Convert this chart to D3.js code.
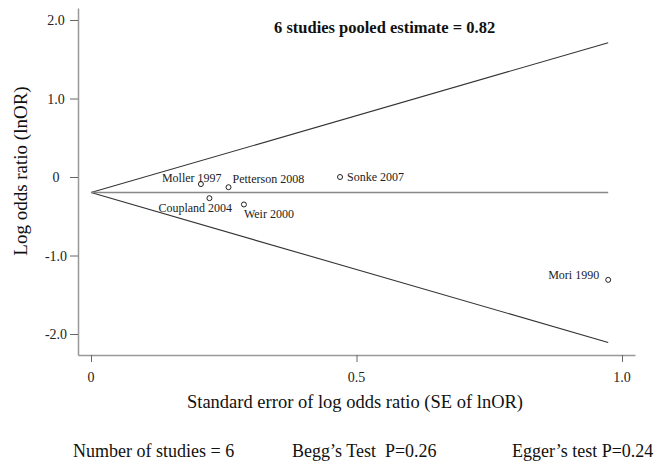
<!DOCTYPE html>
<html>
<head>
<meta charset="utf-8">
<script src="https://cdn.jsdelivr.net/npm/d3@7"></script>
<style>
  body { margin: 0; background: #fff; }
  svg { display: block; font-family: "Liberation Serif", "Times New Roman", serif; }
</style>
</head>
<body>
<svg width="657" height="464"></svg>
<script>
// study data
const studies = ['Moller 1997', 'Petterson 2008', 'Coupland 2004', 'Weir 2000', 'Sonke 2007', 'Mori 1990'];
const seValues = [0.207, 0.259, 0.223, 0.288, 0.469, 0.974];
const lnOrValues = [-0.09, -0.13, -0.27, -0.35, 0.0, -1.31];
const pooledOR = 0.82;
const xTicks = [0, 0.5, 1.0];
const yTicks = [-2, -1, 0, 1, 2];

const svg = d3.select('svg');
const width = 657;
const height = 464;
const margin = { top: 8, right: 22, bottom: 109, left: 78 };
const innerWidth = width - margin.left - margin.right;
const innerHeight = height - margin.top - margin.bottom;

const data = studies.map((name, i) => ({ name, se: seValues[i], lnor: lnOrValues[i] }));
const pooled = Math.log(pooledOR);
const maxSE = d3.max(data, d => d.se);

// label placement (pixel offsets from the point)
const labelPos = {
  'Moller 1997': { dx: -39, dy: -2, anchor: 'start' },
  'Petterson 2008': { dx: 4, dy: -4, anchor: 'start' },
  'Coupland 2004': { dx: -51, dy: 14, anchor: 'start' },
  'Weir 2000': { dx: 0, dy: 14, anchor: 'start' },
  'Sonke 2007': { dx: 7, dy: 4, anchor: 'start' },
  'Mori 1990': { dx: -9, dy: -1, anchor: 'end' }
};

const xScale = d3.scaleLinear()
  .domain([-13 / 531, (innerWidth - 13) / 531])
  .range([0, innerWidth]);

const yScale = d3.scaleLinear()
  .domain([169 / 78.5, -(innerHeight - 169) / 78.5])
  .range([0, innerHeight]);

const fmt = d => d === 0 ? '0' : d3.format('.1f')(d).replace('\u2212', '-');

const g = svg.append('g')
  .attr('transform', `translate(${margin.left},${margin.top})`);

// funnel lines
const funnel = [
  [[0, pooled], [maxSE, pooled + 1.96 * maxSE]],
  [[0, pooled], [maxSE, pooled - 1.96 * maxSE]]
];
g.selectAll('.funnel').data(funnel)
  .enter().append('line')
    .attr('class', 'funnel')
    .attr('x1', d => xScale(d[0][0]))
    .attr('y1', d => yScale(d[0][1]))
    .attr('x2', d => xScale(d[1][0]))
    .attr('y2', d => yScale(d[1][1]))
    .attr('stroke', '#333')
    .attr('stroke-width', 1.1);

// pooled estimate line
g.append('line')
  .attr('x1', xScale(0))
  .attr('x2', xScale(maxSE))
  .attr('y1', yScale(pooled))
  .attr('y2', yScale(pooled))
  .attr('stroke', '#888')
  .attr('stroke-width', 1.5);

// y axis (labels drawn separately below)
const yAxis = d3.axisLeft(yScale)
  .tickValues(yTicks)
  .tickFormat('')
  .tickSize(8)
  .tickSizeOuter(0);
const yAxisG = g.append('g').call(yAxis);
yAxisG.select('.domain').attr('stroke', '#999').attr('stroke-width', 1.5);
yAxisG.selectAll('.tick line').attr('stroke', '#666');

// x axis
const xAxis = d3.axisBottom(xScale)
  .tickValues(xTicks)
  .tickFormat('')
  .tickSize(7)
  .tickSizeOuter(0);
const xAxisG = g.append('g')
  .attr('transform', `translate(0,${innerHeight})`)
  .call(xAxis);
xAxisG.select('.domain').attr('stroke', '#999').attr('stroke-width', 1.5);
xAxisG.selectAll('.tick line').attr('stroke', '#666');

// tick labels
svg.selectAll('.ylabel').data(yTicks)
  .enter().append('text')
    .attr('class', 'ylabel')
    .text(fmt)
    .attr('x', margin.left - 22)
    .attr('y', d => margin.top + yScale(d) + 5)
    .attr('text-anchor', 'middle')
    .attr('font-size', 14)
    .attr('fill', '#222');

svg.selectAll('.xlabel').data(xTicks)
  .enter().append('text')
    .attr('class', 'xlabel')
    .text(fmt)
    .attr('x', d => margin.left + xScale(d))
    .attr('y', margin.top + innerHeight + 27)
    .attr('text-anchor', 'middle')
    .attr('font-size', 14)
    .attr('fill', '#222');

// points
g.selectAll('circle').data(data)
  .enter().append('circle')
    .attr('cx', d => xScale(d.se))
    .attr('cy', d => yScale(d.lnor))
    .attr('r', 2.5)
    .attr('fill', '#fff')
    .attr('stroke', '#222')
    .attr('stroke-width', 1);

g.selectAll('.label').data(data)
  .enter().append('text')
    .attr('class', 'label')
    .text(d => d.name)
    .attr('x', d => xScale(d.se) + labelPos[d.name].dx)
    .attr('y', d => yScale(d.lnor) + labelPos[d.name].dy)
    .attr('text-anchor', d => labelPos[d.name].anchor)
    .attr('font-size', 12)
    .attr('fill', '#222');

// title inside plot
g.append('text')
  .text(`${studies.length} studies pooled estimate = ${pooledOR}`)
  .attr('x', 196)
  .attr('y', 25)
  .attr('font-size', 16.5)
  .attr('font-weight', 'bold')
  .attr('fill', '#111');

// axis titles
svg.append('text')
  .text('Log odds ratio (lnOR)')
  .attr('transform', 'rotate(-90)')
  .attr('x', -171)
  .attr('y', 27)
  .attr('text-anchor', 'middle')
  .attr('font-size', 19)
  .attr('fill', '#111');

svg.append('text')
  .text('Standard error of log odds ratio (SE of lnOR)')
  .attr('x', 355)
  .attr('y', 408)
  .attr('text-anchor', 'middle')
  .attr('font-size', 18.5)
  .attr('fill', '#111');

// footer statistics
const footer = [
  { text: `Number of studies = ${studies.length}`, x: 73 },
  { text: 'Begg\u2019s Test\u00a0 P=0.26', x: 292 },
  { text: 'Egger\u2019s test P=0.24', x: 512 }
];
svg.selectAll('.footer').data(footer)
  .enter().append('text')
    .attr('class', 'footer')
    .text(d => d.text)
    .attr('x', d => d.x)
    .attr('y', 457)
    .attr('font-size', 18)
    .attr('fill', '#111');
</script>
</body>
</html>
